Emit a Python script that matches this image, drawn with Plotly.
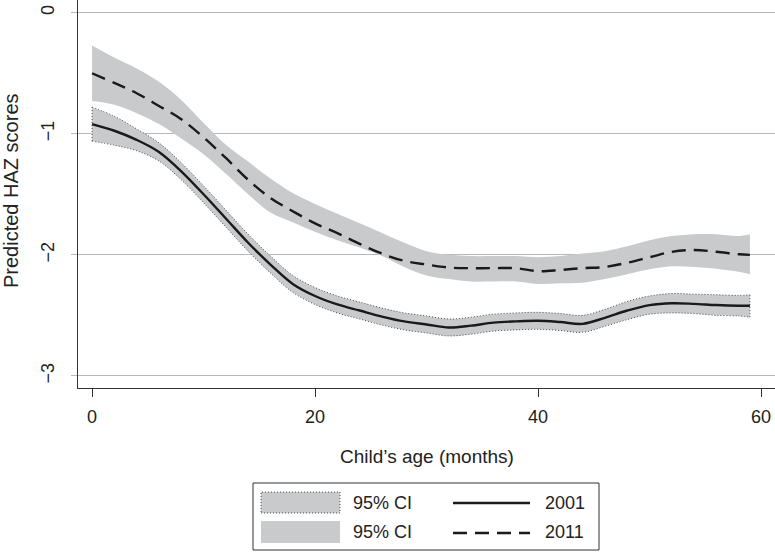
import plotly.graph_objects as go

# ---------------- data ----------------
months = [0, 2, 4, 6, 8, 10, 12, 14, 16, 18, 20, 22, 24, 26, 28, 30,
          32, 34, 36, 38, 40, 42, 44, 46, 48, 50, 52, 54, 56, 58, 59]

haz_2001 = [-0.92, -0.975, -1.05, -1.15, -1.31, -1.50, -1.70, -1.90, -2.08, -2.24,
            -2.34, -2.41, -2.46, -2.51, -2.55, -2.575, -2.60, -2.585, -2.56, -2.55,
            -2.545, -2.555, -2.57, -2.52, -2.46, -2.415, -2.40, -2.405, -2.415, -2.42, -2.42]
ci_2001_upper = [-0.78, -0.855, -0.96, -1.075, -1.24, -1.43, -1.63, -1.83, -2.01, -2.17,
                 -2.27, -2.34, -2.39, -2.44, -2.48, -2.505, -2.53, -2.515, -2.49, -2.48,
                 -2.475, -2.485, -2.50, -2.45, -2.385, -2.34, -2.32, -2.325, -2.33, -2.335, -2.33]
ci_2001_lower = [-1.06, -1.095, -1.14, -1.225, -1.38, -1.57, -1.77, -1.97, -2.15, -2.31,
                 -2.41, -2.48, -2.53, -2.58, -2.62, -2.645, -2.67, -2.655, -2.63, -2.62,
                 -2.615, -2.625, -2.64, -2.59, -2.535, -2.49, -2.48, -2.485, -2.50, -2.505, -2.515]

haz_2011 = [-0.50, -0.58, -0.665, -0.77, -0.88, -1.03, -1.20, -1.38, -1.53, -1.64,
            -1.74, -1.82, -1.91, -1.99, -2.05, -2.08, -2.105, -2.11, -2.11, -2.11,
            -2.135, -2.125, -2.11, -2.10, -2.065, -2.02, -1.975, -1.96, -1.975, -1.995, -2.00]
ci_2011_upper = [-0.27, -0.37, -0.46, -0.57, -0.72, -0.91, -1.09, -1.23, -1.37, -1.49,
                 -1.58, -1.66, -1.74, -1.82, -1.90, -1.97, -2.00, -2.01, -2.01, -2.01,
                 -2.02, -2.01, -1.99, -1.97, -1.93, -1.88, -1.845, -1.83, -1.83, -1.845, -1.83]
ci_2011_lower = [-0.73, -0.76, -0.83, -0.92, -1.04, -1.17, -1.33, -1.50, -1.65, -1.73,
                 -1.81, -1.88, -1.94, -2.01, -2.10, -2.17, -2.20, -2.22, -2.22, -2.22,
                 -2.24, -2.235, -2.23, -2.20, -2.16, -2.12, -2.095, -2.10, -2.115, -2.14, -2.16]

x_ticks = [0, 20, 40, 60]
y_ticks = [0, -1, -2, -3]
legend_labels = ["95% CI", "2001", "95% CI", "2011"]

# ---------------- styles ----------------
FONT = "Liberation Sans, Arial, Helvetica, sans-serif"
TXT = "#222222"
BAND = "#c9cacc"
LINE = "#1a1a1a"
DOT = "#4a4a4a"
GRID = "#b8b8b8"

W, H = 775, 552
L, R, T, B = 78, 0, 0, 164
PW, PH = W - L - R, H - T - B


def px(x):
    return (x - L) / PW


def py(y):
    return (H - B - y) / PH


fig = go.Figure()

# 2011 confidence band
fig.add_trace(go.Scatter(x=months, y=ci_2011_upper, mode="lines",
                         line=dict(width=0, shape="spline"), showlegend=False,
                         hoverinfo="skip"))
fig.add_trace(go.Scatter(x=months, y=ci_2011_lower, mode="lines", fill="tonexty",
                         fillcolor=BAND, line=dict(width=0, shape="spline"),
                         name=legend_labels[2], showlegend=False))

# 2001 confidence band with dotted outline
fig.add_trace(go.Scatter(x=months, y=ci_2001_upper, mode="lines",
                         line=dict(width=1, color=DOT, dash="1px,2px", shape="spline"),
                         showlegend=False, hoverinfo="skip"))
fig.add_trace(go.Scatter(x=months, y=ci_2001_lower, mode="lines", fill="tonexty",
                         fillcolor=BAND,
                         line=dict(width=1, color=DOT, dash="1px,2px", shape="spline"),
                         name=legend_labels[0], showlegend=False))
# vertical dotted ends of the 2001 band
for i in (0, -1):
    fig.add_trace(go.Scatter(x=[months[i], months[i]],
                             y=[ci_2001_lower[i], ci_2001_upper[i]], mode="lines",
                             line=dict(width=1, color=DOT, dash="1px,2px"),
                             showlegend=False, hoverinfo="skip"))

# estimates
fig.add_trace(go.Scatter(x=months, y=haz_2011, mode="lines", name=legend_labels[3],
                         line=dict(width=2.4, color=LINE, dash="14px,8px", shape="spline"),
                         showlegend=False))
fig.add_trace(go.Scatter(x=months, y=haz_2001, mode="lines", name=legend_labels[1],
                         line=dict(width=2.4, color=LINE, shape="spline"),
                         showlegend=False))

# ---------------- manual legend ----------------
shapes = []
annotations = []
shapes.append(dict(type="rect", xref="paper", yref="paper",
                   x0=px(253), x1=px(599), y0=py(550), y1=py(483),
                   line=dict(color="#333333", width=1), fillcolor="white", layer="above"))
shapes.append(dict(type="rect", xref="paper", yref="paper",
                   x0=px(261), x1=px(340), y0=py(513), y1=py(492),
                   line=dict(color=DOT, width=1, dash="1px,2px"), fillcolor=BAND, layer="above"))
shapes.append(dict(type="rect", xref="paper", yref="paper",
                   x0=px(261), x1=px(340), y0=py(543), y1=py(521),
                   line=dict(width=0), fillcolor=BAND, layer="above"))
shapes.append(dict(type="line", xref="paper", yref="paper",
                   x0=px(453), x1=px(530), y0=py(503), y1=py(503),
                   line=dict(color=LINE, width=2.4), layer="above"))
shapes.append(dict(type="line", xref="paper", yref="paper",
                   x0=px(453), x1=px(530), y0=py(533), y1=py(533),
                   line=dict(color=LINE, width=2.4, dash="14px,8px"), layer="above"))

for (lx, ly, txt) in [(351, 503, legend_labels[0]), (543, 503, legend_labels[1]),
                      (351, 532, legend_labels[2]), (543, 532, legend_labels[3])]:
    annotations.append(dict(xref="paper", yref="paper", x=px(lx), y=py(ly), text=txt,
                            showarrow=False, xanchor="left", yanchor="middle",
                            font=dict(family=FONT, size=18, color=TXT)))

annotations.append(dict(xref="paper", yref="paper", x=px(427), y=py(456),
                        text="Child’s age (months)", showarrow=False,
                        xanchor="center", yanchor="middle",
                        font=dict(family=FONT, size=19, color=TXT)))
annotations.append(dict(xref="paper", yref="paper", x=px(11), y=py(191),
                        text="Predicted HAZ scores", showarrow=False, textangle=-90,
                        xanchor="center", yanchor="middle",
                        font=dict(family=FONT, size=20, color=TXT)))

fig.update_layout(
    width=W, height=H,
    margin=dict(l=L, r=R, t=T, b=B, pad=0),
    paper_bgcolor="white", plot_bgcolor="white",
    font=dict(family=FONT, size=18, color=TXT),
    shapes=shapes, annotations=annotations,
    showlegend=False,
    xaxis=dict(range=[-1.26, 61.25], tickvals=x_ticks, ticktext=[str(v) for v in x_ticks],
               showgrid=False, zeroline=False, showline=True, linecolor="#333333",
               linewidth=1, ticks="outside", ticklen=8, tickcolor="#333333",
               ticklabelstandoff=4,
               tickfont=dict(family=FONT, size=18, color=TXT)),
    yaxis=dict(range=[-3.1, 0.105], tickvals=y_ticks,
               showgrid=True, gridcolor=GRID, gridwidth=1, zeroline=False,
               showline=True, linecolor="#333333", linewidth=1,
               ticks="outside", ticklen=6, tickcolor=GRID, tickangle=-90,
               ticklabelstandoff=10,
               tickfont=dict(family=FONT, size=18, color=TXT)),
)

fig.write_html("out.html",
               config={"displayModeBar": False},
               post_script="document.body.style.margin='0px';document.body.style.padding='0px';")
